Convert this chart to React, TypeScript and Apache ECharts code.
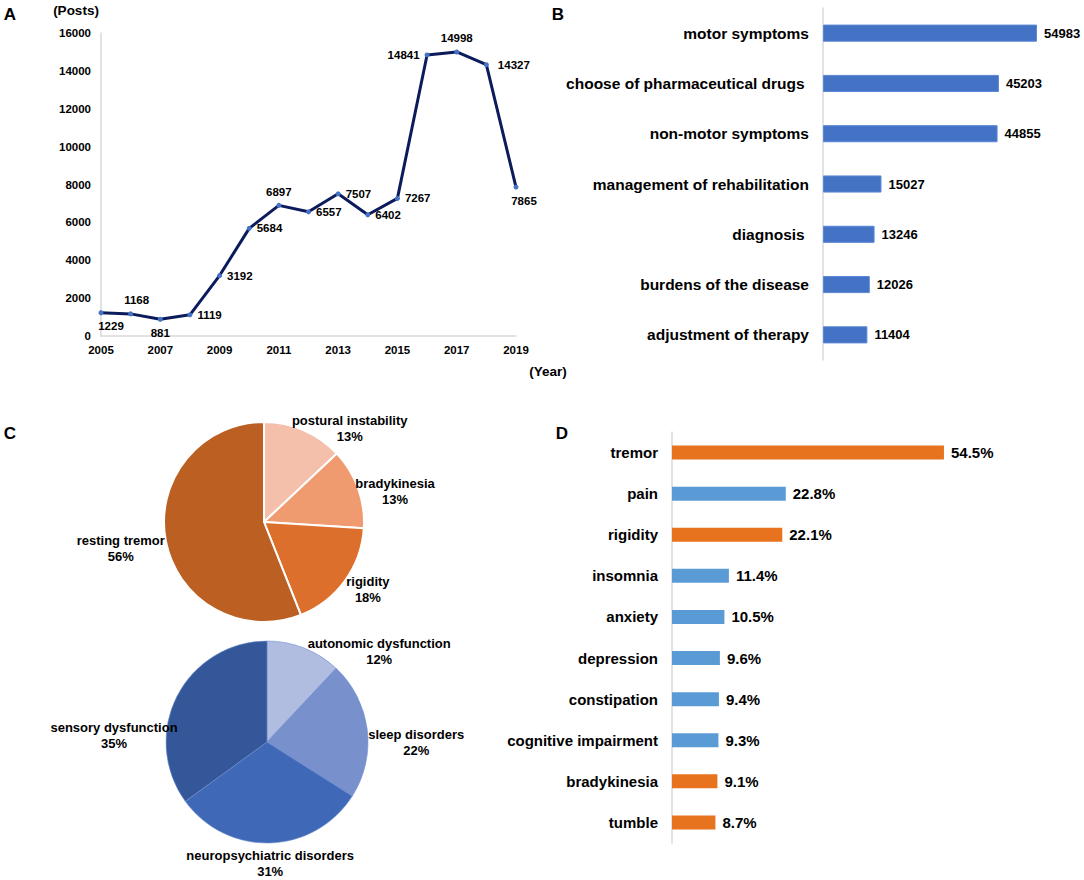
import React, { useEffect, useRef } from "react";
import * as echarts from "echarts";

const FONT = "'Liberation Sans', Arial, Helvetica, sans-serif";

// Panel A
const years = ["2005","2006","2007","2008","2009","2010","2011","2012","2013","2014","2015","2016","2017","2018","2019"];
const posts = [1229, 1168, 881, 1119, 3192, 5684, 6897, 6557, 7507, 6402, 7267, 14841, 14998, 14327, 7865];
const postLabelPos = ["bottom","top","bottom","right","right","right","top","right","right","right","right","left","top","right","bottom"];
const postLabelOffset = [[10,0],[6,0],[0,0],[0,0],[0,0],[0,0],[0,0],[0,0],[0,0],[0,0],[0,0],[0,0],[0,0],[4,0],[8,0]];

// Panel B
const topics = ["motor symptoms", "choose of pharmaceutical drugs ", "non-motor symptoms", "management of rehabilitation", "diagnosis ", "burdens of the disease", "adjustment of therapy"];
const topicCounts = [54983, 45203, 44855, 15027, 13246, 12026, 11404];

// Panel C
const motorNames = ["postural instability", "bradykinesia", "rigidity", "resting tremor"];
const motorPct = [13, 13, 18, 56];
const motorColors = ["#f4bfab", "#f09a70", "#dd6f2c", "#bb6022"];
const nonMotorNames = ["autonomic dysfunction", "sleep disorders", "neuropsychiatric disorders", "sensory dysfunction"];
const nonMotorPct = [12, 22, 31, 35];
const nonMotorColors = ["#b1bde0", "#7891cd", "#3f69b7", "#34579a"];
const motorLabelOffsets = [[46,-2],[37,3],[23,9],[-45,8]];
const nonMotorLabelOffsets = [[75,3],[49,13],[0,21],[-63,39]];

// Panel D
const symptoms = ["tremor", "pain", "rigidity", "insomnia", "anxiety", "depression", "constipation", "cognitive impairment", "bradykinesia", "tumble"];
const symptomPct = [54.5, 22.8, 22.1, 11.4, 10.5, 9.6, 9.4, 9.3, 9.1, 8.7];
const symptomIsMotor = [true, false, true, false, false, false, false, false, true, true];

const ORANGE = "#e8731f";
const BLUE = "#5b9bd5";

function pieLabelLayout(offsets: number[][]) {
  return (p: any) => {
    const r = p.labelRect;
    const ax = p.align === "right" ? r.x + r.width + 5 : r.x - 5;
    const ay = r.y + r.height / 2;
    const o = offsets[p.dataIndex] || [0, 0];
    return { x: ax + o[0], y: ay + o[1], align: "center", verticalAlign: "middle" };
  };
}

export default function App() {
  const ref = useRef<HTMLDivElement>(null);
  useEffect(() => {
    document.body.style.margin = "0";
    if (!ref.current) return;
    const chart = echarts.init(ref.current, undefined, { renderer: "svg" });
    const bold = { fontFamily: FONT, fontWeight: "bold" as const, color: "#000" };
    const option: any = {
      animation: false,
      backgroundColor: "#fff",
      textStyle: { fontFamily: FONT },
      grid: [
        { left: 101, top: 33, width: 415, height: 303 },
        { left: 823, top: 8, width: 233.5, height: 352 },
        { left: 672, top: 432, width: 299.4, height: 411 },
      ],
      xAxis: [
        {
          gridIndex: 0, type: "category", data: years, boundaryGap: false,
          axisLine: { lineStyle: { color: "#d9d9d9", width: 1.5 } },
          axisTick: { show: false },
          axisLabel: { ...bold, fontSize: 11.5, interval: 1, margin: 8 },
        },
        { gridIndex: 1, type: "value", min: 0, max: 60000, show: false },
        { gridIndex: 2, type: "value", min: 0, max: 60, show: false },
      ],
      yAxis: [
        {
          gridIndex: 0, type: "value", min: 0, max: 16000, interval: 2000,
          axisLine: { show: true, lineStyle: { color: "#d9d9d9", width: 1.5 } },
          axisTick: { show: false },
          splitLine: { show: false },
          axisLabel: { ...bold, fontSize: 11.5, margin: 10, formatter: (v: number) => String(v) },
        },
        {
          gridIndex: 1, type: "category", data: topics, inverse: true,
          axisLine: { show: true, lineStyle: { color: "#d9d9d9", width: 1.5 } },
          axisTick: { show: false },
          axisLabel: { ...bold, fontSize: 15.5, margin: 14 },
        },
        {
          gridIndex: 2, type: "category", data: symptoms, inverse: true,
          axisLine: { show: true, lineStyle: { color: "#d9d9d9", width: 1.5 } },
          axisTick: { show: false },
          axisLabel: { ...bold, fontSize: 15, margin: 14 },
        },
      ],
      series: [
        {
          type: "line", xAxisIndex: 0, yAxisIndex: 0,
          data: posts.map((v, i) => ({
            value: v,
            label: { position: postLabelPos[i], offset: postLabelOffset[i] },
          })),
          lineStyle: { color: "#0c1b5c", width: 3 },
          itemStyle: { color: "#4472c4" },
          symbol: "circle", symbolSize: 5, showAllSymbol: true,
          label: { show: true, ...bold, fontSize: 11.5, distance: 5 },
          z: 3,
        },
        {
          type: "bar", xAxisIndex: 1, yAxisIndex: 1, data: topicCounts,
          barCategoryGap: "66%",
          itemStyle: { color: "#4472c4", borderColor: "#5a86d6", borderWidth: 1 },
          label: { show: true, position: "right", distance: 7, ...bold, fontSize: 13 },
        },
        {
          type: "bar", xAxisIndex: 2, yAxisIndex: 2,
          data: symptomPct.map((v, i) => ({
            value: v,
            itemStyle: { color: symptomIsMotor[i] ? ORANGE : BLUE },
          })),
          barCategoryGap: "66%",
          label: { show: true, position: "right", distance: 7, ...bold, fontSize: 15, formatter: "{c}%" },
        },
        {
          type: "pie", center: [264, 522], radius: 100, startAngle: 90, clockwise: true,
          avoidLabelOverlap: false,
          data: motorNames.map((n, i) => ({ name: n, value: motorPct[i], itemStyle: { color: motorColors[i] } })),
          itemStyle: { borderColor: "#fff", borderWidth: 2 },
          label: { show: true, position: "outside", formatter: "{b}\n{c}%", ...bold, fontSize: 13, lineHeight: 16 },
          labelLine: { show: false, length: 0, length2: 0 },
          labelLayout: pieLabelLayout(motorLabelOffsets),
          emphasis: { disabled: true },
        },
        {
          type: "pie", center: [267, 742], radius: 101, startAngle: 90, clockwise: true,
          avoidLabelOverlap: false,
          data: nonMotorNames.map((n, i) => ({ name: n, value: nonMotorPct[i], itemStyle: { color: nonMotorColors[i] } })),
          itemStyle: { borderColor: "#6f8fd0", borderWidth: 0.6 },
          label: { show: true, position: "outside", formatter: "{b}\n{c}%", ...bold, fontSize: 13, lineHeight: 16 },
          labelLine: { show: false, length: 0, length2: 0 },
          labelLayout: pieLabelLayout(nonMotorLabelOffsets),
          emphasis: { disabled: true },
        },
      ],
      graphic: [
        { type: "text", x: 10, y: 14, style: { text: "A", font: `bold 17px ${FONT}`, fill: "#000", align: "center", verticalAlign: "middle" } },
        { type: "text", x: 558, y: 14, style: { text: "B", font: `bold 17px ${FONT}`, fill: "#000", align: "center", verticalAlign: "middle" } },
        { type: "text", x: 10, y: 433, style: { text: "C", font: `bold 17px ${FONT}`, fill: "#000", align: "center", verticalAlign: "middle" } },
        { type: "text", x: 562, y: 433, style: { text: "D", font: `bold 17px ${FONT}`, fill: "#000", align: "center", verticalAlign: "middle" } },
        { type: "text", x: 76, y: 10, style: { text: "(Posts)", font: `bold 13.5px ${FONT}`, fill: "#000", align: "center", verticalAlign: "middle" } },
        { type: "text", x: 548, y: 371, style: { text: "(Year)", font: `bold 13.5px ${FONT}`, fill: "#000", align: "center", verticalAlign: "middle" } },
      ],
    };
    chart.setOption(option);
    return () => chart.dispose();
  }, []);
  return <div ref={ref} style={{ width: 1084, height: 880 }} />;
}
